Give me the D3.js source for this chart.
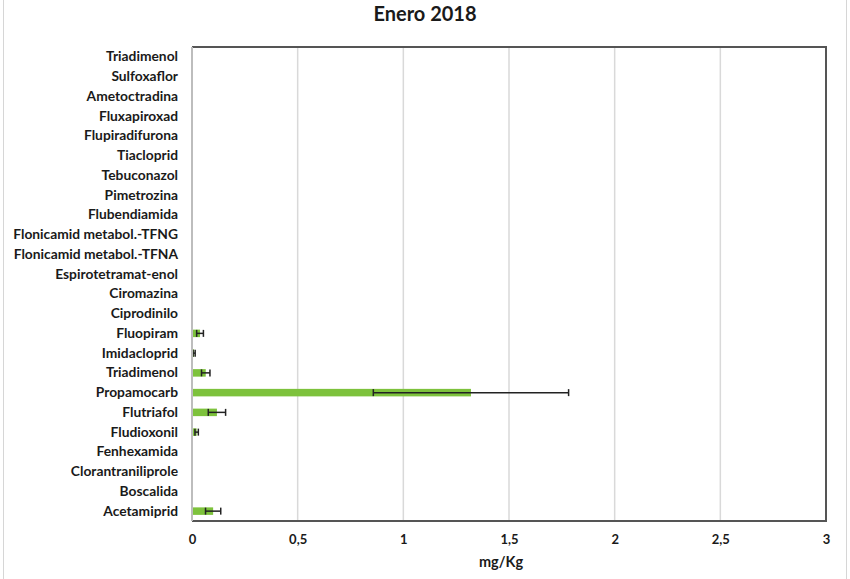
<!DOCTYPE html>
<html>
<head>
<meta charset="utf-8">
<script src="https://cdn.jsdelivr.net/npm/d3@7"></script>
<style>
  body { margin: 0; background: #fff; }
  text { font-family: Lato, "Open Sans", sans-serif; font-weight: bold; fill: #1a1a1a; }
</style>
</head>
<body>
<div id="chart"></div>
<script>
// data, top row first
var categories = ["Triadimenol", "Sulfoxaflor", "Ametoctradina", "Fluxapiroxad", "Flupiradifurona",
  "Tiacloprid", "Tebuconazol", "Pimetrozina", "Flubendiamida", "Flonicamid metabol.-TFNG",
  "Flonicamid metabol.-TFNA", "Espirotetramat-enol", "Ciromazina", "Ciprodinilo", "Fluopiram",
  "Imidacloprid", "Triadimenol", "Propamocarb", "Flutriafol", "Fludioxonil", "Fenhexamida",
  "Clorantraniliprole", "Boscalida", "Acetamiprid"];
var values = [0, 0, 0, 0, 0, 0, 0, 0, 0, 0, 0, 0, 0, 0, 0.038, 0.01, 0.065, 1.32, 0.118, 0.022, 0, 0, 0, 0.10];
var errors = [0, 0, 0, 0, 0, 0, 0, 0, 0, 0, 0, 0, 0, 0, 0.016, 0.005, 0.02, 0.462, 0.041, 0.008, 0, 0, 0, 0.036];
var xTicks = [0, 0.5, 1, 1.5, 2, 2.5, 3];
var xTickLabels = ["0", "0,5", "1", "1,5", "2", "2,5", "3"];

var W = 850, H = 579;
var margin = {top: 47, right: 24, bottom: 58, left: 192},
  width = W - margin.left - margin.right,
  height = H - margin.top - margin.bottom;

var svg = d3.select("#chart").append("svg")
  .attr("width", W)
  .attr("height", H);

// outer chart frame (cropped)
svg.append("rect")
  .attr("x", 3.5).attr("y", -5)
  .attr("width", 843).attr("height", H + 10)
  .attr("fill", "none")
  .attr("stroke", "#d6d6d6");

// title
svg.append("text")
  .attr("x", 425).attr("y", 21)
  .attr("text-anchor", "middle")
  .style("font-size", "20px")
  .text("Enero 2018");

var g = svg.append("g")
  .attr("transform", "translate(" + margin.left + "," + margin.top + ")");

var x = d3.scaleLinear().domain([0, 3]).range([0, width]);
var y = d3.scaleBand().domain(d3.range(categories.length)).range([0, height]).paddingInner(0.62).paddingOuter(0.31);

// gridlines
g.selectAll(".grid")
  .data(xTicks.slice(1, -1))
  .enter().append("line")
  .attr("x1", function(d) { return x(d); })
  .attr("x2", function(d) { return x(d); })
  .attr("y1", 0).attr("y2", height)
  .attr("stroke", "#d9d9d9")
  .attr("stroke-width", 1.5);

// bars
g.selectAll(".bar")
  .data(values)
  .enter().append("rect")
  .attr("class", "bar")
  .attr("x", 0)
  .attr("y", function(d, i) { return y(i); })
  .attr("width", function(d) { return x(d); })
  .attr("height", y.bandwidth())
  .attr("fill", "#7dc23c");

// error bars
var eb = g.selectAll(".err")
  .data(values.map(function(v, i) { return {v: v, e: errors[i], i: i}; }).filter(function(d) { return d.v > 0; }))
  .enter().append("g")
  .attr("transform", function(d) { return "translate(0," + (y(d.i) + y.bandwidth() / 2) + ")"; });

eb.append("line")
  .attr("x1", function(d) { return x(d.v - d.e); })
  .attr("x2", function(d) { return x(d.v + d.e); })
  .attr("stroke", "#222").attr("stroke-width", 1.5);
eb.append("line")
  .attr("x1", function(d) { return x(d.v - d.e); })
  .attr("x2", function(d) { return x(d.v - d.e); })
  .attr("y1", -3.5).attr("y2", 3.5)
  .attr("stroke", "#222").attr("stroke-width", 1.5);
eb.append("line")
  .attr("x1", function(d) { return x(d.v + d.e); })
  .attr("x2", function(d) { return x(d.v + d.e); })
  .attr("y1", -3.5).attr("y2", 3.5)
  .attr("stroke", "#222").attr("stroke-width", 1.5);

// plot border: top/right/bottom dark, left lighter
g.append("path")
  .attr("d", "M0,0H" + width + "V" + height + "H0")
  .attr("fill", "none")
  .attr("stroke", "#555")
  .attr("stroke-width", 2);
g.append("line")
  .attr("x1", 0).attr("x2", 0).attr("y1", 0).attr("y2", height)
  .attr("stroke", "#bdbdbd").attr("stroke-width", 2);

// category labels
var yaxis = d3.axisLeft(y)
  .tickSize(0)
  .tickPadding(14)
  .tickFormat(function(i) { return categories[i]; });
var ya = g.append("g").call(yaxis);
ya.select(".domain").remove();
ya.selectAll("text").style("font-size", "13.8px");

// x axis labels
var xaxis = d3.axisBottom(x)
  .tickValues(xTicks)
  .tickSize(0)
  .tickPadding(14)
  .tickFormat(function(d, i) { return xTickLabels[i]; });
var xa = g.append("g")
  .attr("transform", "translate(0," + height + ")")
  .call(xaxis);
xa.select(".domain").remove();
xa.selectAll("text").style("font-size", "13px");

// x axis title
svg.append("text")
  .attr("x", margin.left + width / 2 - 8)
  .attr("y", 567)
  .attr("text-anchor", "middle")
  .style("font-size", "14.5px")
  .text("mg/Kg");
</script>
</body>
</html>
